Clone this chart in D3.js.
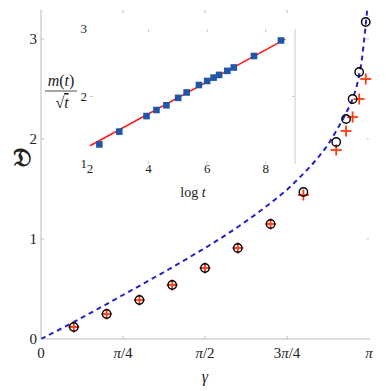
<!DOCTYPE html>
<html lang="en">
<head>
<meta charset="utf-8">
<title>D vs gamma</title>
<script src="https://cdn.jsdelivr.net/npm/d3@7"></script>
<style>
  body { margin: 0; background: #fff; }
  text { font-family: "Liberation Serif", "DejaVu Serif", serif; fill: #222; }
</style>
</head>
<body>
<script>
// main panel data (gamma given as fraction of pi)
var curveG = [0, 0.1, 0.25, 0.375, 0.454, 0.515, 0.6, 0.7, 0.749, 0.79, 0.841, 0.876, 0.9, 0.927, 0.952, 0.967, 0.978, 0.986, 0.993, 0.997];
var curveD = [0, 0.17, 0.44, 0.67, 0.82, 0.94, 1.12, 1.36, 1.49, 1.62, 1.80, 1.95, 2.08, 2.24, 2.42, 2.59, 2.79, 3.02, 3.24, 3.38];

var circG = [0.1, 0.2, 0.3, 0.4, 0.5, 0.6, 0.7, 0.8, 0.9, 0.93, 0.95, 0.97, 0.99];
var circD = [0.12, 0.25, 0.39, 0.54, 0.71, 0.91, 1.15, 1.47, 1.97, 2.20, 2.40, 2.67, 3.17];

var plusG = [0.1, 0.2, 0.3, 0.4, 0.5, 0.6, 0.7, 0.8, 0.9, 0.93, 0.95, 0.97, 0.99];
var plusD = [0.12, 0.25, 0.39, 0.54, 0.71, 0.91, 1.15, 1.44, 1.89, 2.08, 2.22, 2.40, 2.60];

var xTickVals = [0, 0.25, 0.5, 0.75, 1];
var xTickLabels = [["0"], ["π", "/4"], ["π", "/2"], ["3", "π", "/4"], ["π"]];
var yTickVals = [0, 1, 2, 3];

// inset data
var logT = [2.32, 3.0, 3.93, 4.27, 4.61, 5.01, 5.30, 5.72, 6.0, 6.22, 6.41, 6.69, 6.91, 7.60, 8.52];
var mRatio = [1.29, 1.48, 1.71, 1.80, 1.87, 1.98, 2.06, 2.17, 2.23, 2.28, 2.32, 2.38, 2.43, 2.60, 2.83];
var fitX = [2, 8.67];
var fitY = [1.27, 2.85];
var insetXTicks = [2, 4, 6, 8];
var insetYTicks = [1, 2, 3];

var w = 390, h = 391;
var svg = d3.select("body").append("svg").attr("width", w).attr("height", h);

var xScale = d3.scaleLinear().domain([0, 1]).range([41, 369]);
var yScale = d3.scaleLinear().domain([0, 3.29]).range([339, 10]);

svg.append("defs").append("clipPath").attr("id", "clip")
  .append("rect").attr("x", 41).attr("y", 10).attr("width", 330).attr("height", 329);

// axes lines (left + bottom only)
svg.append("line").attr("x1", 41).attr("x2", 41).attr("y1", 10).attr("y2", 339)
  .attr("stroke", "#bbb").attr("stroke-width", 1);
svg.append("line").attr("x1", 41).attr("x2", 370).attr("y1", 339).attr("y2", 339)
  .attr("stroke", "#bbb").attr("stroke-width", 1);

// inward ticks on all four sides
xTickVals.forEach(function(v) {
  if (v == 0 || v == 1) return;
  svg.append("line").attr("x1", xScale(v)).attr("x2", xScale(v)).attr("y1", 339).attr("y2", 336).attr("stroke", "#bbb");
  svg.append("line").attr("x1", xScale(v)).attr("x2", xScale(v)).attr("y1", 10).attr("y2", 13).attr("stroke", "#bbb");
});
yTickVals.forEach(function(v) {
  if (v == 0) return;
  svg.append("line").attr("x1", 41).attr("x2", 44).attr("y1", yScale(v)).attr("y2", yScale(v)).attr("stroke", "#bbb");
  svg.append("line").attr("x1", 369).attr("x2", 366).attr("y1", yScale(v)).attr("y2", yScale(v)).attr("stroke", "#ccc");
});

// tick labels
var xl = svg.selectAll(".xl").data(xTickVals).enter().append("text")
  .attr("x", function(d) { return xScale(d); })
  .attr("y", 358)
  .attr("text-anchor", "middle")
  .style("font-size", "15px");
xl.each(function(d, i) {
  var t = d3.select(this);
  xTickLabels[i].forEach(function(part) {
    t.append("tspan").text(part).style("font-style", part == "π" ? "italic" : "normal");
  });
});

svg.selectAll(".yl").data(yTickVals).enter().append("text")
  .attr("x", 37)
  .attr("y", function(d) { return yScale(d) + 5; })
  .attr("text-anchor", "end")
  .style("font-size", "15px")
  .text(function(d) { return d; });

svg.append("text").attr("x", 205).attr("y", 382).attr("text-anchor", "middle")
  .style("font-size", "16px").style("font-style", "italic").text("γ");
svg.append("text").attr("x", 22).attr("y", 166).attr("text-anchor", "middle")
  .style("font-size", "25px").style("font-weight", "bold").text("𝔇");

// dashed curve
var line = d3.line()
  .x(function(d) { return xScale(d[0]); })
  .y(function(d) { return yScale(d[1]); })
  .curve(d3.curveMonotoneX);
svg.append("path")
  .datum(d3.zip(curveG, curveD))
  .attr("d", line)
  .attr("clip-path", "url(#clip)")
  .attr("fill", "none")
  .attr("stroke", "#2222c8")
  .attr("stroke-width", 2)
  .attr("stroke-dasharray", "5,4");

// red plus markers
var plusData = d3.zip(plusG, plusD);
var pg = svg.selectAll(".plus").data(plusData).enter().append("g")
  .attr("transform", function(d) { return "translate(" + xScale(d[0]) + "," + yScale(d[1]) + ")"; });
pg.append("line").attr("x1", -5.5).attr("x2", 5.5).attr("y1", 0).attr("y2", 0)
  .attr("stroke", "#ff3a10").attr("stroke-width", 1.8);
pg.append("line").attr("x1", 0).attr("x2", 0).attr("y1", -5.5).attr("y2", 5.5)
  .attr("stroke", "#ff3a10").attr("stroke-width", 1.8);

// black open circles
svg.selectAll(".circ").data(d3.zip(circG, circD)).enter().append("circle")
  .attr("cx", function(d) { return xScale(d[0]); })
  .attr("cy", function(d) { return yScale(d[1]); })
  .attr("r", 4.2)
  .attr("fill", "none")
  .attr("stroke", "#000")
  .attr("stroke-width", 1.4);

// ---- inset ----
var ix = d3.scaleLinear().domain([2, 9]).range([90, 295]);
var iy = d3.scaleLinear().domain([1, 3]).range([164, 29]);

svg.append("line").attr("x1", 295).attr("x2", 295).attr("y1", 29).attr("y2", 164)
  .attr("stroke", "#ccc").attr("stroke-width", 1);
insetXTicks.forEach(function(v) {
  if (v == 2) return;
  svg.append("line").attr("x1", ix(v)).attr("x2", ix(v)).attr("y1", 164).attr("y2", 161).attr("stroke", "#ccc");
  svg.append("line").attr("x1", ix(v)).attr("x2", ix(v)).attr("y1", 29).attr("y2", 32).attr("stroke", "#ccc");
});
insetYTicks.forEach(function(v) {
  if (v == 1 || v == 3) return;
  svg.append("line").attr("x1", 90).attr("x2", 93).attr("y1", iy(v)).attr("y2", iy(v)).attr("stroke", "#ccc");
  svg.append("line").attr("x1", 295).attr("x2", 292).attr("y1", iy(v)).attr("y2", iy(v)).attr("stroke", "#ccc");
});

svg.selectAll(".ixl").data(insetXTicks).enter().append("text")
  .attr("x", function(d) { return ix(d); })
  .attr("y", 173)
  .attr("text-anchor", "middle")
  .style("font-size", "13px")
  .text(function(d) { return d; });
svg.selectAll(".iyl").data(insetYTicks).enter().append("text")
  .attr("x", 87)
  .attr("y", function(d) { return iy(d) + 4; })
  .attr("text-anchor", "end")
  .style("font-size", "13px")
  .text(function(d) { return d; });

var lt = svg.append("text").attr("x", 193).attr("y", 197).attr("text-anchor", "middle").style("font-size", "14px");
lt.append("tspan").text("log ");
lt.append("tspan").style("font-style", "italic").text("t");

// fraction label m(t)/sqrt(t)
var num = svg.append("text").attr("x", 61).attr("y", 86).attr("text-anchor", "middle").style("font-size", "16px");
num.append("tspan").style("font-style", "italic").text("m");
num.append("tspan").text("(");
num.append("tspan").style("font-style", "italic").text("t");
num.append("tspan").text(")");
svg.append("line").attr("x1", 45).attr("x2", 77).attr("y1", 91).attr("y2", 91).attr("stroke", "#222").attr("stroke-width", 0.8);
var den = svg.append("text").attr("x", 62).attr("y", 108).attr("text-anchor", "middle").style("font-size", "16px");
den.append("tspan").text("√");
den.append("tspan").style("font-style", "italic").style("text-decoration", "overline").text("t");

// fit line
svg.append("line")
  .attr("x1", ix(fitX[0])).attr("y1", iy(fitY[0]))
  .attr("x2", ix(fitX[1])).attr("y2", iy(fitY[1]))
  .attr("stroke", "#ff1a1a").attr("stroke-width", 1.6);

// squares
svg.selectAll(".sq").data(d3.zip(logT, mRatio)).enter().append("rect")
  .attr("x", function(d) { return ix(d[0]) - 3.3; })
  .attr("y", function(d) { return iy(d[1]) - 3.3; })
  .attr("width", 6.6).attr("height", 6.6)
  .attr("fill", "#1f56a8");
</script>
</body>
</html>
